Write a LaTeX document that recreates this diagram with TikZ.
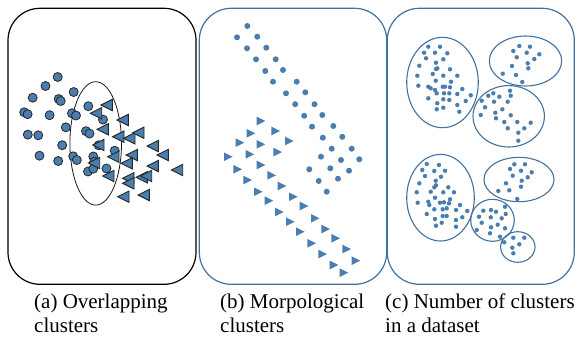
\documentclass[tikz,border=0pt]{standalone}
\usepackage{fontspec}
\setmainfont{Liberation Serif}
\definecolor{dotblue}{RGB}{74,126,174}
\definecolor{frameblue}{RGB}{65,113,156}

\begin{document}
\begin{tikzpicture}[x=1pt,y=-1pt,
    panel/.style={draw=frameblue,line width=1.2pt,rounded corners=32pt},
    ball/.style={fill=dotblue,draw=black!85,line width=0.8pt},
    tri/.style={fill=dotblue,draw=black!85,line width=0.9pt,line join=miter},
    dot/.style={fill=dotblue},
    caption/.style={anchor=north west,inner sep=0pt,align=left,
      font=\rmfamily\fontsize{21}{23.5}\selectfont}]
    \useasboundingbox (0,0) rectangle (575,340);
    \draw[panel,draw=black] (8,8.3) rectangle (196,284.3);
    \draw[panel] (199.3,8.3) rectangle (386.7,284.3);
    \draw[panel] (387.3,8.3) rectangle (574.3,284.3);

    \draw[black!90,line width=0.8pt] (95.7,143.4) ellipse [x radius=25.8,y radius=61.7];
    \foreach \x/\y in {57.7/77,45.5/86,32.7/97.7,58.7/99,60.7/101,73.7/92,24.2/112.3,
        27.6/114.2,49.6/115.2,72/113.3,76/115.5,88.3/106.2,103/119.6,65.8/127.3,
        27.8/134.6,38.3/135.3,86/131.2,89.5/133.6,62.2/145.2,98.7/145.3,114.7/150.7,
        39.5/155.7,58.2/161,73.2/156.3,76.8/160,93.3/156.5,94.3/161.7,88/171.5,
        93.3/168.7,106.5/168.5}
      \filldraw[ball] (\x,\y) circle (4.5);
    \foreach \x/\y in {106.7/105,96/113.3,122.7/120,102.7/129.3,118.3/136.7,
        129.3/138.3,138.3/132.7,98.3/145,113.3/156.7,131.7/155,152.7/146,162.7/155,
        94/163,126.7/163.3,152.7/166,177/170,108.3/176,128.3/178.3,141.7/177.3,
        146/176,128.3/183.3,123.3/196.7,143.7/195}
      \filldraw[tri] (\x-5.7,\y) -- (\x+5.7,\y-5.7) -- (\x+5.7,\y+5.7) -- cycle;

    \foreach \x/\y in {247.3/26,237/37.3,257.3/36.7,247/48.3,266.3/47.7,256/59.3,
        275.7/59.3,265.3/71,283/70,273/81.7,296.7/81.7,286/93.3,305.3/92.3,
        295.2/104.2,314.5/104.2,304.2/115.8,322.3/115,312/126.7,333.3/126,
        322.8/137.7,342.3/136.8,331.7/148.7,351.7/148.7,321/156.7,341/160,
        359.3/159.3,309.3/169.3,330.3/168.3,349/170.7,318.7/181,338/178.7,326.7/191.7}
      \fill[dot] (\x,\y) circle (3);
    \foreach \x/\y in {261/121,251/133.3,275.7/131,240/142.7,261/144.3,289.3/141,
        228.3/156.7,250/154.3,277.7/152,237.7/169.3,261/165,247.7/180,271.7/175.3,
        258.3/191.7,282/186,269/200.7,293.3/196.7,279.3/212,304/206,290.3/221.7,
        315.3/218.3,300.3/231.7,325.7/229,311.7/243.3,335.7/238.3,322.7/254,
        346.7/249,334/265,356/260.7,344/272.7}
      \fill[dot] (\x+4.3,\y) -- (\x-4.3,\y-4.3) -- (\x-4.3,\y+4.3) -- cycle;

    \foreach \cx/\cy/\rx/\ry in {442.5/82.5/35.8/45.2,525.5/61/36.2/25,
        508.7/116.3/35.7/30.7,440.5/197.7/33.8/43.3,519/179.5/35/22.2,
        492.5/220.3/21.8/21,517.8/247/17.2/15.3}
      \draw[frameblue,line width=1.1pt] (\cx,\cy) ellipse [x radius=\rx,y radius=\ry];
    \foreach \x/\y in {428.3/46.7,440/46.7,424/52.7,435/52.7,447.3/53.3,426/58.3,
        443.3/59.3,436/62.7,419.3/65.7,437.3/68.3,436/69,450/69.3,432.7/74,443.3/75.7,
        457.3/75.7,417.3/75.7,435.7/80.7,451/81.7,418.3/85.7,428.3/86.7,430.7/88.3,
        442.7/86.7,445/86.7,450/87.3,435/90,462.3/89,436.7/93.3,444/93.3,449.3/93.3,
        457.3/94,470.7/95.3,428.3/98.3,443.3/99.3,449.3/100,465.7/101,437.3/103.3,
        457.3/105,436.7/109.3,443.3/107.7,459.3/111.7,
        519.3/46,530/46.7,513.3/51,526.7/52.7,539.3/54.3,516.7/57.3,534.3/59,
        527.7/63.3,528.3/68.3,512/66,502.7/73.7,516/75,522.3/82,
        510/90.7,493.3/93.3,488.3/95.7,499.3/96.7,510.7/95.7,481.7/100.7,494/101.7,
        507.7/101.7,485/107.3,502.3/109.3,495.3/112.7,480.7/115,510.7/115.3,
        496/118.3,504.3/122,517.3/122,530.7/122.7,507.7/128.3,524.3/128.3,
        518.3/132.7,518.3/140.7,
        426.7/164,439/165,422.3/170,434.3/171,445/170.7,425/176,441/176.7,
        435.7/180.7,419.3/183.3,436/185.3,434.3/187.3,448.3/187.3,430.7/191.7,
        443.3/192.3,454/192.3,416.7/192.3,435/197.7,450/199.3,417.7/202.7,
        428.3/201.7,429.3/205,440/202.7,444/202.3,449/203.3,460/205,434.3/209.3,
        442.7/209.3,446.7/208.3,456/210,467.3/211,426.7/214,442.7/216,462.3/217.3,
        446.7/216,435/219,441.7/222.7,456/220,436/225.7,456/226.7,
        514.3/164.3,525/164.3,510/169,521/170.7,531.7/172.3,512.7/175.7,
        527.7/177.3,521.7/180.7,506/183.3,521/186.7,498.3/191,509.3/190.3,517.3/199,
        505/206.7,483.3/210.7,491/210,496/211.7,505.7/214,479/216.7,490.7/217.3,
        501.7/218.3,481.7/222.7,497.7/224.7,491/227.3,505/228.3,476.7/230,
        490/233.3,500/236.7,504.3/242.3,
        513.3/237.7,524.3/237.7,519.3/244.3,512.3/247.7,513.3/253.3}
      \fill[dot] (\x,\y) circle (2.2);

    \node[caption] (capa) at (34,294) {(a) Overlapping\\clusters};
    \node[caption] (capb) at (220,294) {(b) Morpological\\clusters};
    \node[caption] (capc) at (385,294) {(c) Number of clusters\\in a dataset};
\end{tikzpicture}
\end{document}
